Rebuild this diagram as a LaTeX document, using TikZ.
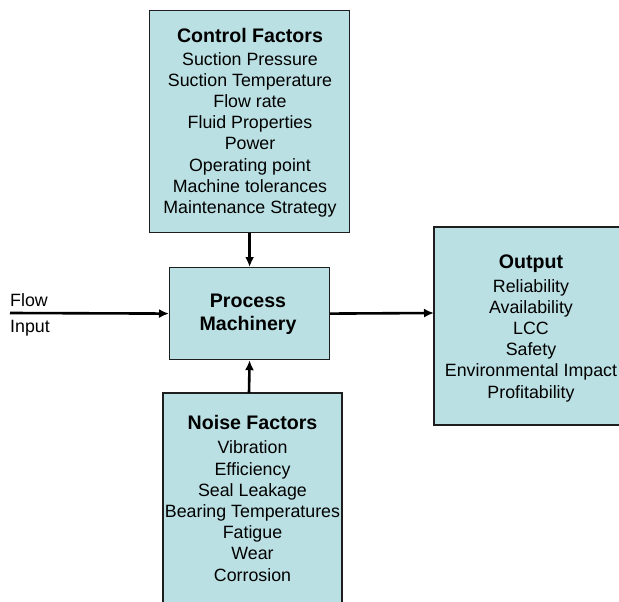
\documentclass[tikz,border=0pt]{standalone}
\usepackage{fontspec}
\setmainfont{Liberation Sans}
\usetikzlibrary{arrows.meta}
\definecolor{boxfill}{RGB}{187,224,227}
\definecolor{boxline}{RGB}{30,30,30}
\tikzset{
  blockfill/.style={fill=boxfill},
  blockline/.style={draw=boxline, line width=1.2pt},
  % multi-line text blocks are placed by the baseline of their last line
  body/.style={inner sep=0pt, align=center, anchor=base,
    font=\fontsize{17.8}{21.2}\selectfont},
  flowarrow/.style={line width=2.6pt, -{Latex[length=10pt,width=9pt]}}
}
\newcommand{\hdtext}[1]{{\fontsize{19.6}{21.2}\selectfont\bfseries #1}}
\begin{document}
\begin{tikzpicture}[x=1pt, y=-1pt]
  \useasboundingbox (0,0) rectangle (619,602);

  % boxes
  \node[blockfill, blockline, anchor=north west, minimum width=200pt, minimum height=222pt, inner sep=0pt] (ctrl) at (149,10) {};
  \node[blockfill, blockline, anchor=north west, minimum width=160pt, minimum height=92pt, inner sep=0pt] (proc) at (169,267) {};
  % noise and output boxes run off the page edge: fill, then draw the visible sides
  \fill[boxfill] (163,393) rectangle (342,602);
  \draw[blockline] (163,602) -- (163,393) -- (342,393) -- (342,602);
  \coordinate (noise) at (249,393);
  \fill[boxfill] (434,227) rectangle (619,425);
  \draw[blockline] (619,227) -- (434,227) -- (434,425) -- (619,425);
  \coordinate (outW) at (434,313);

  % texts
  \node[body] (ctrltext) at (250,213.5) {\hdtext{Control Factors}\\[1pt]
    Suction Pressure\\ Suction Temperature\\ Flow rate\\ Fluid Properties\\
    Power\\ Operating point\\ Machine tolerances\\ Maintenance Strategy};
  \node[body] (proctext) at (248,330) {\hdtext{Process}\\[1pt] \hdtext{Machinery}};
  \node[body] (noisetext) at (252.5,581) {\hdtext{Noise Factors}\\[3pt]
    Vibration\\ Efficiency\\ Seal Leakage\\ Bearing Temperatures\\
    Fatigue\\ Wear\\ Corrosion};
  \node[body] (outtext) at (531,398) {\hdtext{Output}\\[2pt]
    Reliability\\ Availability\\ LCC\\ Safety\\ Environmental Impact\\ Profitability};
  \node[body, anchor=base west] (flow) at (10,306) {Flow};
  \node[body, anchor=base west] (input) at (10,332) {Input};

  % connectors
  \coordinate (src) at (10,313);
  \draw[flowarrow] (ctrl.south -| proc.north) -- (proc.north);
  \draw[flowarrow] (noise) -- (proc.south);
  \draw[flowarrow] (src) -- (proc.west);
  \draw[flowarrow] (proc.east) -- (outW);
\end{tikzpicture}
\end{document}
